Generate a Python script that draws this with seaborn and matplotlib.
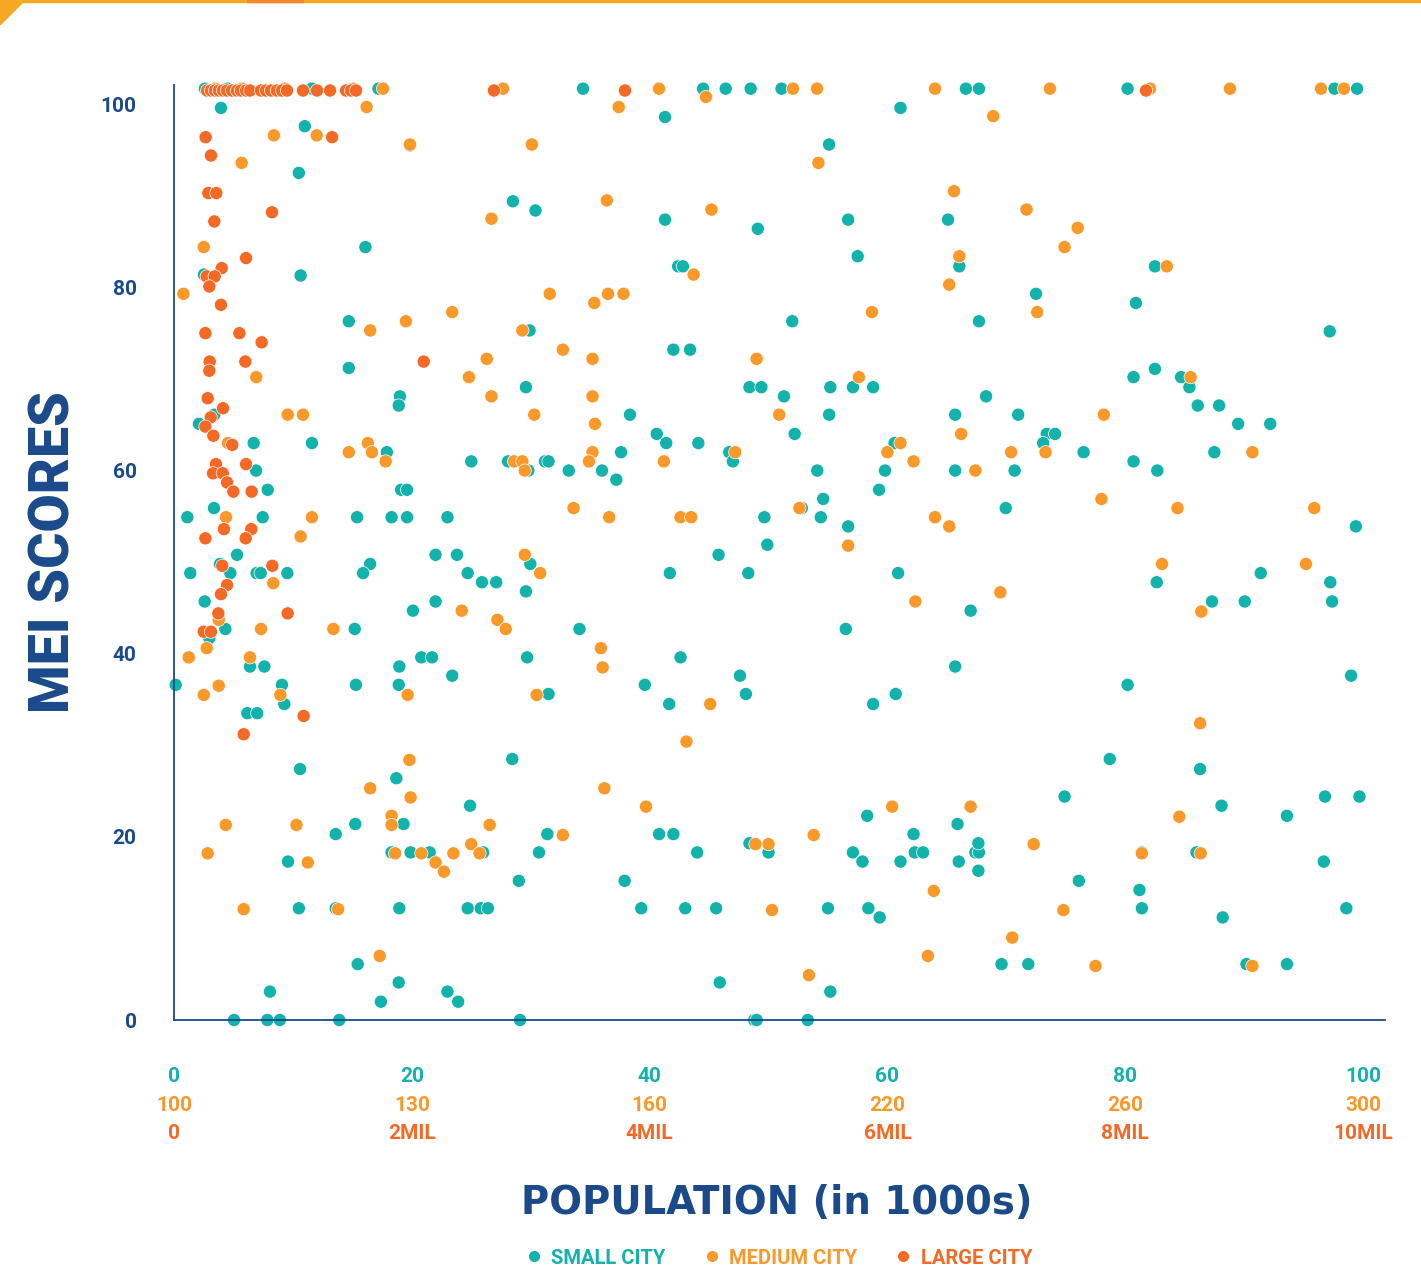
import matplotlib
matplotlib.use("Agg")
import matplotlib.pyplot as plt
import matplotlib.patches as mpatches
from matplotlib.lines import Line2D
import seaborn as sns
import pandas as pd

# ---------------- data ----------------
small_x = [2.6, 4.5, 11.6, 17.2, 34.4, 44.5, 46.4, 48.5, 51.1, 66.6, 67.7, 80.2, 97.6, 99.5,
           3.95, 11.0, 19.85, 10.5, 28.5, 30.4, 16.1, 2.52, 10.65, 14.7, 29.9, 14.7, 29.6, 19.0, 18.9,
           3.39, 2.1, 6.7, 11.6, 17.9, 25.0, 28.1, 31.2, 31.5, 29.8, 33.2, 6.9, 7.88, 19.1, 19.6,
           3.36, 1.12, 7.46, 15.4, 18.3, 19.6, 23.0, 5.3, 22.0, 23.8,
           41.3, 61.1, 55.1, 41.3, 49.1, 56.7, 65.1, 57.5, 66.05, 42.4, 42.8, 52.0, 67.7, 42.0, 43.4,
           48.4, 49.4, 55.2, 57.1, 58.8, 51.3, 38.35, 55.1, 65.7, 40.6, 52.2, 41.4, 44.1, 60.6, 37.6,
           46.7, 47.0, 36.0, 37.2, 54.1, 59.8, 65.7, 59.3, 54.6, 52.8, 49.65, 54.4, 56.7, 45.8, 49.9,
           82.5, 72.5, 80.9, 97.2, 82.5, 80.7, 84.7, 85.4, 68.3, 86.1, 87.9, 71.0, 89.5, 92.2, 73.4,
           74.1, 73.1, 76.5, 87.5, 70.7, 80.7, 82.7, 69.95, 99.4,
           3.87, 1.37, 4.74, 6.95, 7.29, 9.53, 16.5, 15.9, 29.97, 24.7, 25.9, 27.1, 2.58, 29.6, 22.0,
           20.1, 4.32, 15.2, 34.1, 2.97, 29.7, 20.8, 21.7, 6.39, 7.6, 18.95, 23.4, 0.14, 9.08, 15.3,
           18.9, 31.5, 9.28, 6.17, 7.0, 10.6, 28.45, 18.7, 24.9, 19.3, 15.25, 13.6, 31.4, 18.3, 19.9,
           21.5, 26.0, 30.7, 9.59, 29.0, 10.5, 13.6, 18.95, 24.7, 25.8, 26.4, 15.45, 18.9, 8.07, 23.0,
           17.4, 23.9, 5.05, 7.85, 8.9, 13.9, 29.1,
           41.7, 48.3, 60.9, 67.0, 56.5, 42.6, 39.6, 47.6, 48.1, 41.65, 58.8, 60.7, 65.7, 58.3, 65.9,
           40.8, 42.0, 62.2, 44.0, 48.4, 50.0, 57.1, 57.9, 61.1, 62.3, 63.0, 66.0, 67.4, 67.7, 67.65,
           67.65, 37.9, 39.3, 43.0, 45.6, 55.0, 58.4, 59.35, 45.9, 55.2, 48.8, 49.0, 53.3,
           91.4, 82.65, 97.25, 87.3, 90.05, 97.4, 99.0, 80.2, 78.7, 86.3, 74.9, 96.8, 99.7, 88.1, 93.6,
           81.4, 86.0, 96.7, 76.1, 81.2, 81.4, 88.2, 98.6, 69.6, 71.85, 90.2, 93.6]
small_y = [101.7, 101.7, 101.7, 101.7, 101.7, 101.7, 101.7, 101.7, 101.7, 101.7, 101.7, 101.7, 101.7, 101.7,
           99.6, 97.6, 95.5, 92.5, 89.4, 88.4, 84.4, 81.4, 81.3, 76.3, 75.3, 71.2, 69.1, 68.1, 67.1,
           66.1, 65.1, 63.0, 63.0, 62.0, 61.0, 61.0, 61.0, 61.0, 60.0, 60.0, 60.0, 57.9, 57.9, 57.9,
           55.9, 54.9, 54.9, 54.9, 54.9, 54.9, 54.9, 50.8, 50.8, 50.8,
           98.6, 99.6, 95.6, 87.4, 86.4, 87.4, 87.4, 83.4, 82.3, 82.3, 82.3, 76.3, 76.3, 73.2, 73.2,
           69.1, 69.1, 69.1, 69.1, 69.1, 68.1, 66.1, 66.1, 66.1, 64.0, 64.0, 63.0, 63.0, 63.0, 62.0,
           62.0, 61.0, 60.0, 59.0, 60.0, 60.0, 60.0, 57.9, 56.9, 55.9, 54.9, 54.9, 53.9, 50.8, 51.9,
           82.3, 79.3, 78.3, 75.2, 71.1, 70.2, 70.2, 69.1, 68.1, 67.1, 67.1, 66.1, 65.1, 65.1, 64.0,
           64.0, 63.0, 62.0, 62.0, 60.0, 61.0, 60.0, 55.9, 53.9,
           49.8, 48.8, 48.8, 48.8, 48.8, 48.8, 49.8, 48.8, 49.8, 48.8, 47.8, 47.8, 45.7, 46.8, 45.7,
           44.7, 42.7, 42.7, 42.7, 41.7, 39.6, 39.6, 39.6, 38.6, 38.6, 38.6, 37.6, 36.6, 36.6, 36.6,
           36.6, 35.6, 34.5, 33.5, 33.5, 27.4, 28.5, 26.4, 23.4, 21.4, 21.4, 20.3, 20.3, 18.3, 18.3,
           18.3, 18.3, 18.3, 17.3, 15.2, 12.2, 12.2, 12.2, 12.2, 12.2, 12.2, 6.1, 4.1, 3.1, 3.1,
           2.0, 2.0, 0.0, 0.0, 0.0, 0.0, 0.0,
           48.8, 48.8, 48.8, 44.7, 42.7, 39.6, 36.6, 37.6, 35.6, 34.5, 34.5, 35.6, 38.6, 22.3, 21.4,
           20.3, 20.3, 20.3, 18.3, 19.3, 18.3, 18.3, 17.3, 17.3, 18.3, 18.3, 17.3, 18.3, 18.3, 19.3,
           16.3, 15.2, 12.2, 12.2, 12.2, 12.2, 12.2, 11.2, 4.1, 3.1, 0.0, 0.0, 0.0,
           48.8, 47.8, 47.8, 45.7, 45.7, 45.7, 37.6, 36.6, 28.5, 27.4, 24.4, 24.4, 24.4, 23.4, 22.3,
           18.3, 18.3, 17.3, 15.2, 14.2, 12.2, 11.2, 12.2, 6.1, 6.1, 6.1, 6.1]

medium_x = [3.45, 5.72, 9.34, 15.05, 17.58, 27.67, 40.79, 52.06, 54.08, 64.0, 73.67, 82.09, 88.81, 96.47, 98.4,
            37.4, 16.2, 44.74, 8.4, 12.0, 19.85, 30.1, 5.69, 26.7, 2.5, 0.79, 31.6, 23.4, 19.5, 16.5,
            29.3, 32.7, 26.3, 6.92, 24.8, 26.7, 9.56, 10.85, 30.3, 4.54, 16.3, 14.7, 16.65, 17.8, 28.6,
            29.3, 29.5, 33.6, 4.37, 11.6, 10.65, 29.5,
            54.2, 65.6, 36.4, 45.2, 66.05, 43.7, 65.2, 36.5, 37.8, 35.35, 58.7, 35.2, 49.0, 57.6, 35.2,
            50.9, 35.4, 66.2, 61.1, 35.2, 47.2, 60.0, 34.9, 41.2, 62.2, 67.4, 52.6, 36.6, 42.6, 43.5,
            64.0, 65.2, 56.7,
            68.9, 71.7, 76.0, 74.9, 83.5, 72.6, 85.5, 78.2, 70.4, 73.3, 90.7, 78.0, 84.4, 95.9,
            8.35, 24.2, 3.76, 27.2, 27.9, 7.32, 13.4, 2.75, 1.24, 6.39, 3.76, 2.5, 8.94, 19.65, 30.5,
            30.8, 19.8, 16.5, 19.9, 18.3, 18.3, 4.35, 10.3, 26.55, 32.7, 2.83, 18.6, 20.8, 23.5, 25.0,
            25.7, 22.0, 22.7, 11.25, 5.86, 13.8, 17.3,
            62.35, 35.9, 36.05, 45.1, 43.1, 36.2, 39.7, 60.4, 67.0, 53.8, 48.9, 50.0, 63.9, 50.3, 63.4,
            53.4,
            83.1, 95.2, 69.5, 86.4, 86.3, 84.55, 72.3, 81.4, 86.35, 74.8, 70.5, 77.5, 90.7]
medium_y = [101.7] * 15 + [
            99.7, 99.7, 100.8, 96.6, 96.6, 95.6, 95.6, 93.6, 87.5, 84.4, 79.3, 79.3, 77.3, 76.3, 75.3,
            75.3, 73.2, 72.2, 70.2, 70.2, 68.1, 66.1, 66.1, 66.1, 63.0, 63.0, 62.0, 62.0, 61.0, 61.0,
            61.0, 60.0, 55.9, 54.9, 54.9, 52.8, 50.8,
            93.6, 90.5, 89.5, 88.5, 83.4, 81.4, 80.3, 79.3, 79.3, 78.3, 77.3, 72.2, 72.2, 70.2, 68.1,
            66.1, 65.1, 64.0, 63.0, 62.0, 62.0, 62.0, 61.0, 61.0, 61.0, 60.0, 55.9, 54.9, 54.9, 54.9,
            54.9, 53.9, 51.8,
            98.7, 88.5, 86.5, 84.4, 82.3, 77.3, 70.2, 66.1, 62.0, 62.0, 62.0, 56.9, 55.9, 55.9,
            47.7, 44.7, 43.7, 43.7, 42.7, 42.7, 42.7, 40.6, 39.6, 39.6, 36.5, 35.5, 35.5, 35.5, 35.5,
            48.8, 28.4, 25.3, 24.3, 22.3, 21.3, 21.3, 21.3, 21.3, 20.2, 18.2, 18.2, 18.2, 18.2, 19.2,
            18.2, 17.2, 16.2, 17.2, 12.1, 12.1, 7.0,
            45.7, 40.6, 38.5, 34.5, 30.4, 25.3, 23.3, 23.3, 23.3, 20.2, 19.2, 19.2, 14.1, 12.0, 7.0,
            4.9,
            49.8, 49.8, 46.7, 44.6, 32.4, 22.2, 19.2, 18.2, 18.2, 12.0, 9.0, 5.9, 5.9]

large_x = [2.78, 3.11, 3.45, 3.78, 4.12, 4.46, 4.88, 5.30, 5.63, 6.06, 6.39, 7.32, 7.74, 8.16, 8.66,
           9.08, 9.50, 10.85, 12.03, 13.12, 14.47, 14.89, 15.31, 26.91, 37.93, 81.75,
           2.66, 13.3, 3.11, 2.89, 3.56, 8.24, 3.39, 6.06, 4.01, 2.75, 3.42, 2.97, 3.95, 2.64, 5.5,
           7.37, 3.0, 6.0, 21.0, 2.97, 2.83, 4.12, 3.09, 2.64, 3.31, 4.9, 3.53, 6.06, 3.28, 4.1,
           4.46, 4.99, 6.53, 4.2, 6.5, 2.64, 6.03, 4.06, 8.27, 4.46, 3.95, 3.73, 9.56, 2.5, 3.11,
           10.9, 5.86]
large_y = [101.5] * 26 + [
           96.4, 96.4, 94.4, 90.3, 90.3, 88.2, 87.2, 83.2, 82.1, 81.2, 81.2, 80.1, 78.1, 75.0, 75.0,
           74.0, 71.9, 71.9, 71.9, 70.9, 67.9, 66.8, 65.8, 64.8, 63.8, 62.8, 60.7, 60.7, 59.7, 59.7,
           58.7, 57.7, 57.7, 53.6, 53.6, 52.6, 52.6, 49.6, 49.6, 47.5, 46.5, 44.4, 44.4, 42.4, 42.4,
           33.2, 31.2]

categories = ["SMALL CITY", "MEDIUM CITY", "LARGE CITY"]
tick_vals = [0, 20, 40, 60, 80, 100]
tick_row1 = ["0", "20", "40", "60", "80", "100"]
tick_row2 = ["100", "130", "160", "220", "260", "300"]
tick_row3 = ["0", "2MIL", "4MIL", "6MIL", "8MIL", "10MIL"]
y_ticks = [0, 20, 40, 60, 80, 100]

# ---------------- style ----------------
TEAL = "#13B2AB"
ORANGE = "#F8992A"
RED = "#F26A26"
NAVY = "#1B4A8B"
palette = {categories[0]: TEAL, categories[1]: ORANGE, categories[2]: RED}

sns.set_theme(style="white")
plt.rcParams["font.family"] = ["Roboto", "DejaVu Sans"]

df = pd.concat([
    pd.DataFrame({"x": small_x, "y": small_y, "city": categories[0]}),
    pd.DataFrame({"x": medium_x, "y": medium_y, "city": categories[1]}),
    pd.DataFrame({"x": large_x, "y": large_y, "city": categories[2]}),
], ignore_index=True)

fig = plt.figure(figsize=(14.21, 12.71), dpi=100)
ax = fig.add_axes([174 / 1421, 1 - 1020 / 1271, 1211 / 1421, 935 / 1271])

sns.scatterplot(data=df, x="x", y="y", hue="city", hue_order=categories, palette=palette,
                s=90, edgecolor="white", linewidth=0.5, legend=False, ax=ax, clip_on=False)

ax.set_xlim(0, 101.85)
ax.set_ylim(0, 102.1)
for s in ["top", "right"]:
    ax.spines[s].set_visible(False)
for s in ["left", "bottom"]:
    ax.spines[s].set_color(NAVY)
    ax.spines[s].set_linewidth(1.3)

ax.set_yticks(y_ticks)
ax.set_yticklabels([str(v) for v in y_ticks])
ax.set_xticks(tick_vals)
ax.set_xticklabels([])
ax.tick_params(axis="both", direction="out", length=22, width=1.3, color=NAVY)
ax.tick_params(axis="y", labelsize=15, labelcolor=NAVY, pad=5)
for lab in ax.get_yticklabels():
    lab.set_fontweight("bold")

for rowlabels, color, off in [(tick_row1, TEAL, 41), (tick_row2, ORANGE, 61.5), (tick_row3, RED, 82)]:
    for v, t in zip(tick_vals, rowlabels):
        ax.annotate(t, xy=(v, 0), xycoords=("data", "axes fraction"), xytext=(0, -off),
                    textcoords="offset points", ha="center", va="center",
                    fontsize=15, fontweight="bold", color=color, annotation_clip=False)

ax.set_xlabel("POPULATION (in 1000s)", fontsize=27.8, fontweight="bold", color=NAVY, va="center",
              family=["DejaVu Sans"])
ax.xaxis.set_label_coords(0.498, -0.1957)
ax.set_ylabel("MEI SCORES", fontsize=40, fontweight="black", color=NAVY, va="center")
ax.yaxis.set_label_coords(-0.0995, 0.5)

handles = [Line2D([0], [0], marker="o", linestyle="none", markersize=8,
                  markerfacecolor=palette[c], markeredgecolor="none") for c in categories]
leg = fig.legend(handles, categories, loc="center", bbox_to_anchor=(779 / 1421, 1 - 1258 / 1271),
                 ncol=3, frameon=False, handlelength=0.8, handletextpad=0.45, columnspacing=1.9,
                 prop={"size": 14.5, "weight": "bold"})
for t, c in zip(leg.get_texts(), categories):
    t.set_color(palette[c])

# top decoration
fig.patches.append(mpatches.Rectangle((0, 1 - 2 / 1271), 1, 2 / 1271, transform=fig.transFigure,
                                      color="#F7A823", zorder=0))
fig.patches.append(mpatches.Rectangle((247 / 1421, 1 - 2 / 1271), 56 / 1421, 2 / 1271,
                                      transform=fig.transFigure, color="#F08A2B", zorder=1))
fig.patches.append(mpatches.Polygon([(0, 1), (25 / 1421, 1), (0, 1 - 25 / 1271)], closed=True,
                                    transform=fig.transFigure, color="#F7A823", zorder=1))

fig.savefig("out.png", dpi=100)
